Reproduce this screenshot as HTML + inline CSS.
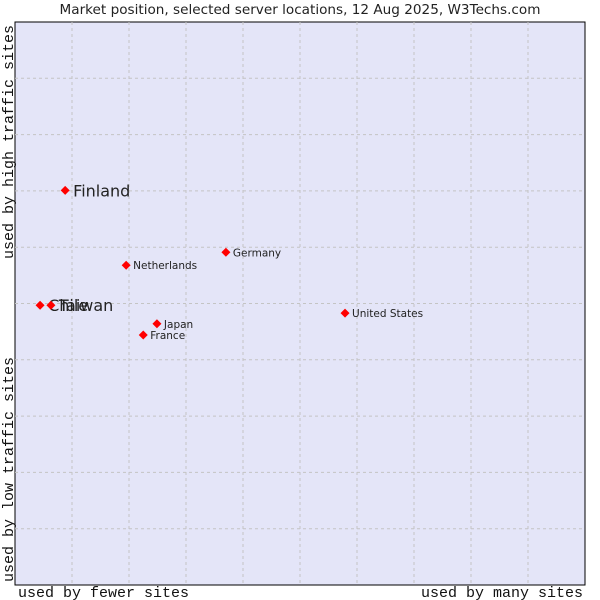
<!DOCTYPE html>
<html><head><meta charset="utf-8"><style>
body{margin:0;background:#fff;width:600px;height:600px;overflow:hidden}
svg{display:block}
</style></head><body>
<svg id="chart" width="600" height="600" xmlns="http://www.w3.org/2000/svg">
<text x="300" y="14" text-anchor="middle" font-family="DejaVu Sans, sans-serif" font-size="13.6" fill="#222">Market position, selected server locations, 12 Aug 2025, W3Techs.com</text>
<rect x="15" y="22" width="570" height="563" fill="#e4e5f8" stroke="#000" stroke-width="1"/>
<g id="grid"></g>
<g id="points"></g>
<text x="18" y="597" font-family="Liberation Mono, monospace" font-size="15" fill="#111">used by fewer sites</text>
<text x="583" y="597" text-anchor="end" font-family="Liberation Mono, monospace" font-size="15" fill="#111">used by many sites</text>
<text transform="translate(13,582) rotate(-90)" font-family="Liberation Mono, monospace" font-size="15" fill="#111">used by low traffic sites</text>
<text transform="translate(13,259) rotate(-90)" font-family="Liberation Mono, monospace" font-size="15" fill="#111">used by high traffic sites</text>
</svg>
<script>
const names=["Finland","Netherlands","Germany","Chile","Taiwan","Japan","France","United States"];
const xVals=[8.8,19.5,37.0,4.4,6.3,24.9,22.5,57.9];
const yVals=[70.1,56.8,59.1,49.7,49.7,46.4,44.4,48.3];
const bigLabel=[true,false,false,true,true,false,false,false];
const NS="http://www.w3.org/2000/svg";
const L=15,T=22,W=570,H=563;
function sx(v){return L+v/100*W;}
function sy(v){return T+H-v/100*H;}
const grid=document.getElementById('grid');
for(let i=1;i<10;i++){
  const gx=document.createElementNS(NS,'line');
  
  
  gx.setAttribute('x1',L+i*57);gx.setAttribute('x2',L+i*57);gx.setAttribute('y1',T);gx.setAttribute('y2',T+H);
  gx.setAttribute('stroke','#c4c4c4');gx.setAttribute('stroke-dasharray','3,3');
  grid.appendChild(gx);
  const gy=document.createElementNS(NS,'line');
  
  
  const yy=T+H-i*56.3;
  gy.setAttribute('x1',L);gy.setAttribute('x2',L+W);gy.setAttribute('y1',yy);gy.setAttribute('y2',yy);
  gy.setAttribute('stroke','#c4c4c4');gy.setAttribute('stroke-dasharray','3,3');
  grid.appendChild(gy);
}
const pts=document.getElementById('points');
names.forEach((n,i)=>{
  const cx=sx(xVals[i]),cy=sy(yVals[i]);
  const c=document.createElementNS(NS,'path');
  
  
  c.setAttribute('d',`M${cx-4.5},${cy}L${cx},${cy-4.5}L${cx+4.5},${cy}L${cx},${cy+4.5}Z`);
  c.setAttribute('fill','#f00');
  pts.appendChild(c);
  const t=document.createElementNS(NS,'text');
  
  
  const big=bigLabel[i];
  t.setAttribute('x',cx+(big?8:7));t.setAttribute('y',cy+(big?6:4));
  t.setAttribute('font-family','DejaVu Sans, sans-serif');
  t.setAttribute('font-size',big?16:10.5);t.setAttribute('fill','#222');
  t.textContent=n;
  pts.appendChild(t);
});
</script>
</body></html>
